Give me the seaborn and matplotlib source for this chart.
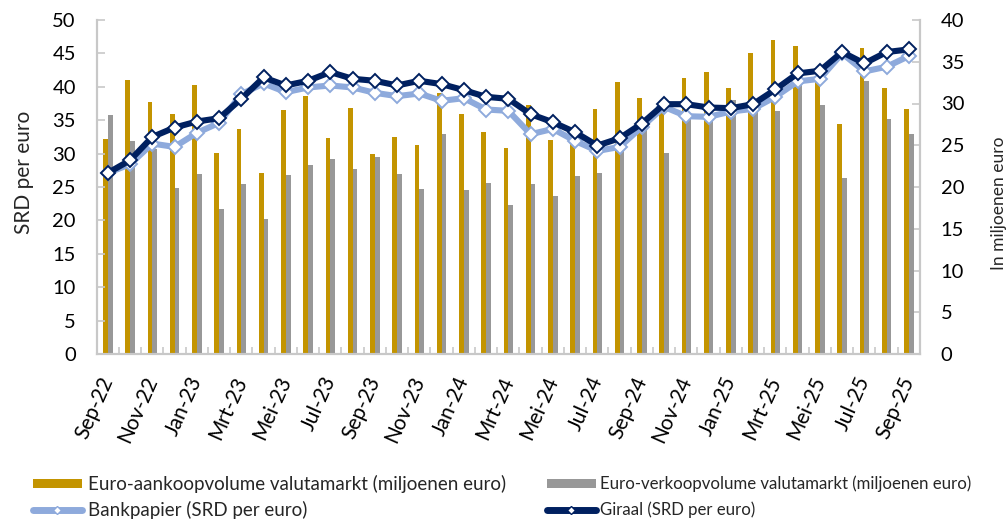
import matplotlib
matplotlib.use("Agg")
import matplotlib.pyplot as plt
import seaborn as sns
import pandas as pd
import numpy as np
from matplotlib.lines import Line2D
from matplotlib.patches import Patch

# ---------------- data ----------------
maanden = ["Sep-22", "Okt-22", "Nov-22", "Dec-22", "Jan-23", "Feb-23", "Mrt-23", "Apr-23",
           "Mei-23", "Jun-23", "Jul-23", "Aug-23", "Sep-23", "Okt-23", "Nov-23", "Dec-23",
           "Jan-24", "Feb-24", "Mrt-24", "Apr-24", "Mei-24", "Jun-24", "Jul-24", "Aug-24",
           "Sep-24", "Okt-24", "Nov-24", "Dec-24", "Jan-25", "Feb-25", "Mrt-25", "Apr-25",
           "Mei-25", "Jun-25", "Jul-25", "Aug-25", "Sep-25"]

# miljoenen euro (rechter as)
aankoop = [25.8, 32.8, 30.2, 28.8, 32.2, 24.1, 27.0, 21.7, 29.2, 30.9, 25.9, 29.5, 23.9,
           26.0, 25.0, 31.3, 28.7, 26.6, 24.7, 29.8, 25.6, 26.4, 29.4, 32.6, 30.7, 29.6,
           33.0, 33.8, 31.9, 36.1, 37.6, 36.9, 33.2, 27.6, 36.7, 31.9, 29.4]
verkoop = [28.6, 25.5, 24.6, 19.9, 21.6, 17.4, 20.3, 16.2, 21.4, 22.6, 23.3, 22.1, 23.6,
           21.6, 19.8, 26.4, 19.6, 20.5, 17.8, 20.3, 18.9, 21.3, 21.7, 25.2, 27.0, 24.1,
           28.4, 28.4, 30.4, 29.2, 29.1, 32.2, 29.8, 21.1, 32.7, 28.2, 26.3]

# SRD per euro (linker as)
bankpapier = [27.1, 28.4, 31.5, 31.0, 33.1, 34.6, 38.9, 40.5, 39.2, 39.9, 40.2, 39.9, 39.1,
              38.6, 39.0, 37.9, 38.3, 36.6, 36.4, 32.9, 33.7, 31.9, 30.4, 31.0, 34.0, 37.0,
              35.6, 35.5, 36.3, 36.7, 38.5, 40.8, 41.2, 45.0, 42.3, 43.0, 44.6]
giraal = [27.1, 29.0, 32.5, 33.9, 34.8, 35.3, 38.2, 41.4, 40.2, 40.9, 42.2, 41.2, 40.9,
          40.2, 40.9, 40.4, 39.5, 38.5, 38.2, 35.9, 34.7, 33.2, 31.2, 32.3, 34.5, 37.4,
          37.4, 36.9, 36.8, 37.4, 39.6, 42.0, 42.4, 45.2, 43.5, 45.2, 45.6]

lab_aankoop = "Euro-aankoopvolume valutamarkt (miljoenen euro)"
lab_verkoop = "Euro-verkoopvolume valutamarkt (miljoenen euro)"
lab_bank = "Bankpapier (SRD per euro)"
lab_giraal = "Giraal (SRD per euro)"

# ---------------- style ----------------
GOLD = "#C39400"
GRAY = "#989898"
LIGHT = "#8EAADC"
NAVY = "#002060"
SPINE = "#C8C8C8"

sns.set_theme(style="white")
plt.rcParams["font.family"] = ["Lato", "DejaVu Sans"]

W, H = 1008, 519
fig = plt.figure(figsize=(W / 100, H / 100), dpi=100)
ax = fig.add_axes([96.7 / W, 1 - 354 / H, (920 - 96.7) / W, (354 - 20) / H])
ax2 = ax.twinx()

# bars on right axis
bars = pd.DataFrame({
    "maand": maanden * 2,
    "waarde": aankoop + verkoop,
    "reeks": [lab_aankoop] * len(maanden) + [lab_verkoop] * len(maanden),
})
sns.barplot(data=bars, x="maand", y="waarde", hue="reeks", order=maanden,
            hue_order=[lab_aankoop, lab_verkoop], palette=[GOLD, GRAY],
            width=0.43, saturation=1, linewidth=0, legend=False, ax=ax2)

# lines on left axis
idx = np.arange(len(maanden))
sns.lineplot(x=idx, y=bankpapier, ax=ax, color=LIGHT, linewidth=4.4, marker="D",
             markersize=7, markerfacecolor="white", markeredgecolor=LIGHT,
             markeredgewidth=1.4, zorder=3)
sns.lineplot(x=idx, y=giraal, ax=ax, color=NAVY, linewidth=4.4, marker="D",
             markersize=7, markerfacecolor="white", markeredgecolor=NAVY,
             markeredgewidth=1.4, zorder=4)

ax.set_zorder(ax2.get_zorder() + 1)
ax.patch.set_visible(False)

# axes limits / ticks
ax.set_xlim(-0.5, len(maanden) - 0.5)
ax.set_ylim(0, 50)
ax2.set_ylim(0, 40)
ax.set_yticks(np.arange(0, 51, 5))
ax2.set_yticks(np.arange(0, 41, 5))
ax.set_xticks(idx[::2])
ax.set_xticklabels(maanden[::2], rotation=66, ha="right", va="center",
                   rotation_mode="anchor")
ax.set_xticks(np.arange(-0.5, len(maanden), 1), minor=True)

ax.tick_params(axis="x", which="major", length=0, pad=17, labelsize=15, labelcolor="black")
ax.tick_params(axis="x", which="minor", direction="in", length=5, width=1.2, color=SPINE,
               bottom=True)
ax.tick_params(axis="y", direction="in", length=6, width=1.2, color=SPINE, pad=15,
               labelsize=14.5, labelcolor="black", left=True)
ax2.tick_params(axis="y", direction="in", length=6, width=1.2, color=SPINE, pad=15,
                labelsize=14.5, labelcolor="black", right=True)

for a in (ax, ax2):
    a.set_xlabel("")
    a.set_ylabel("")
    a.grid(False)
    a.spines["top"].set_visible(False)
    for s in ("left", "right", "bottom"):
        a.spines[s].set_color(SPINE)
        a.spines[s].set_linewidth(1.5)

fig.text(24 / W, 1 - 172 / H, "SRD per euro", rotation=90, ha="center", va="center",
         fontsize=15)
fig.text(999 / W, 1 - 203 / H, "In miljoenen euro", rotation=90, ha="center", va="center",
         fontsize=12.5)

# legends
h_gold = Patch(facecolor=GOLD, edgecolor="none")
h_gray = Patch(facecolor=GRAY, edgecolor="none")
h_bank = Line2D([], [], color=LIGHT, lw=5, marker="D", markersize=4.5,
                markerfacecolor="white", markeredgecolor=LIGHT, markeredgewidth=1)
h_gir = Line2D([], [], color=NAVY, lw=5, marker="D", markersize=4.5,
               markerfacecolor="white", markeredgecolor=NAVY, markeredgewidth=1)

common = dict(loc="center left", frameon=False, borderpad=0, borderaxespad=0, numpoints=1)
fs1, fs2 = 13.5, 12.1
leg1 = fig.legend([h_gold, h_bank], [lab_aankoop, lab_bank],
                  bbox_to_anchor=(33 / W, 1 - 497 / H), fontsize=fs1,
                  handlelength=49 / (fs1 * 1.389), handleheight=8 / (fs1 * 1.389),
                  handletextpad=6 / (fs1 * 1.389), labelspacing=7.5 / (fs1 * 1.389),
                  **common)
leg2 = fig.legend([h_gray, h_gir], [lab_verkoop, lab_giraal],
                  bbox_to_anchor=(547 / W, 1 - 497 / H), fontsize=fs2,
                  handlelength=49 / (fs2 * 1.389), handleheight=8 / (fs2 * 1.389),
                  handletextpad=4 / (fs2 * 1.389), labelspacing=9.5 / (fs2 * 1.389),
                  **common)

fig.savefig("out.png", dpi=100)
